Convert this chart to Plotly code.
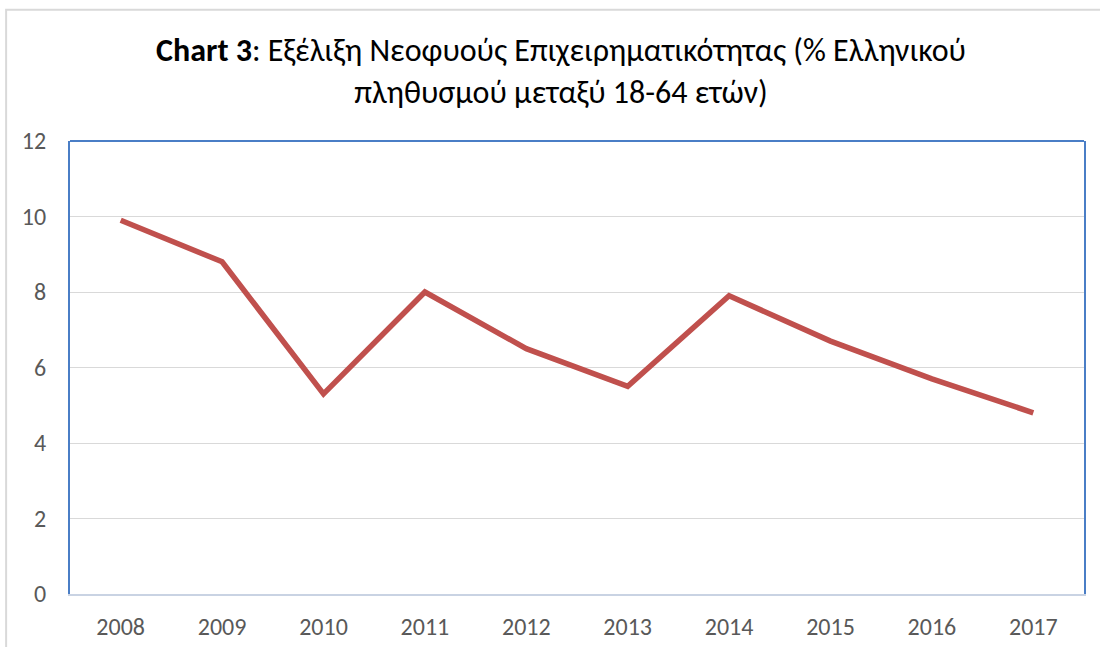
import plotly.graph_objects as go

years = ["2008", "2009", "2010", "2011", "2012", "2013", "2014", "2015", "2016", "2017"]
tea = [9.9, 8.8, 5.3, 8.0, 6.5, 5.5, 7.9, 6.7, 5.7, 4.8]
y_ticks = [0, 2, 4, 6, 8, 10, 12]

font_family = "Carlito, Calibri, Noto Sans, sans-serif"

fig = go.Figure()
fig.add_trace(go.Scatter(
    x=years, y=tea, mode="lines",
    line=dict(color="#C0504D", width=5.5),
    hoverinfo="x+y",
))

fig.update_layout(
    width=1100, height=647,
    margin=dict(l=70, r=16, t=141, b=53),
    plot_bgcolor="white", paper_bgcolor="white",
    showlegend=False,
    font=dict(family=font_family, color="#595959", size=24),
    title=dict(
        text="<b>Chart 3</b>: Εξέλιξη Νεοφυούς Επιχειρηματικότητας (% Ελληνικού<br>πληθυσμού μεταξύ 18-64 ετών)",
        x=0.51, xanchor="center", y=0.905, yanchor="top",
        font=dict(family=font_family, size=32, color="black"),
    ),
    xaxis=dict(
        type="category", range=[-0.5, 9.5], automargin=False,
        showline=True, linecolor="#c9d3e3", linewidth=2,
        showgrid=False, ticks="", ticklabelstandoff=10,
    ),
    yaxis=dict(
        range=[0, 12], tickvals=y_ticks, automargin=False,
        showline=True, linecolor="#4A7EC6", linewidth=2, mirror=True,
        gridcolor="#d9d9d9", gridwidth=1, zeroline=False,
        ticks="", ticklabelstandoff=17,
    ),
    shapes=[
        # top edge of the plot frame
        dict(type="line", xref="paper", yref="paper", x0=0, x1=1, y0=1, y1=1,
             line=dict(color="#4A7EC6", width=2)),
        # outer chart frame
        dict(type="rect", xref="paper", yref="paper", x0=-0.063, x1=1.2, y0=-0.3, y1=1.29,
             line=dict(color="#d9d9d9", width=2), layer="below"),
    ],
)

fig.write_html("out.html", config={"displayModeBar": False},
               post_script="document.body.style.margin='0px';")
